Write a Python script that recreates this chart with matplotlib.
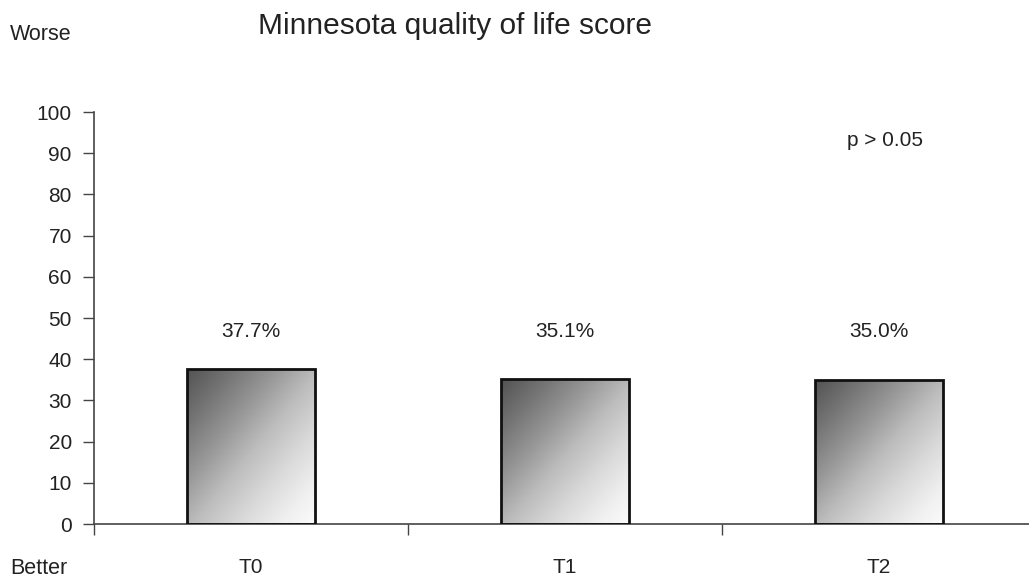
import numpy as np
import matplotlib
matplotlib.use("Agg")
import matplotlib.pyplot as plt

plt.rcParams['font.family'] = ['Liberation Sans', 'DejaVu Sans']

# data
groups = ['T0', 'T1', 'T2']
scores = [37.7, 35.1, 35.0]
score_labels = ['37.7%', '35.1%', '35.0%']
yticks = list(range(0, 101, 10))

txt = '#222222'

fig = plt.figure(figsize=(10.29, 5.77), dpi=100)
ax = fig.add_axes([94 / 1029, 53 / 577, 942 / 1029, 412 / 577])

x = np.arange(len(groups))
bars = ax.bar(x, scores, width=0.405, color='none', edgecolor='#111111', linewidth=2, zorder=3)

# diagonal gradient, dark top-left -> light bottom-right
gx, gy = np.meshgrid(np.linspace(0, 1, 200), np.linspace(0, 1, 200))
grad = (gx + gy) / 2.0
for b in bars:
    x0, y0 = b.get_x(), b.get_y()
    w, h = b.get_width(), b.get_height()
    im = ax.imshow(grad, cmap='Greys_r', vmin=-0.35, vmax=1.05, aspect='auto',
                   extent=(x0, x0 + w, y0, y0 + h), origin='upper', zorder=2, interpolation='bilinear')
    im.set_clip_path(b)

ax.set_xlim(-0.5, 2.5)
ax.set_ylim(0, 100)
ax.set_yticks(yticks)
ax.tick_params(axis='y', length=8, width=1, colors='#444444', labelcolor=txt, labelsize=15, pad=8)
ax.set_xticks([-0.5, 0.5, 1.5, 2.5])
ax.set_xticklabels([])
ax.tick_params(axis='x', length=8, width=1, colors='#444444', direction='out')
for g, xi in zip(groups, x):
    ax.text(xi, -10.5, g, ha='center', va='center', fontsize=15, color=txt)

for s in ['top', 'right']:
    ax.spines[s].set_visible(False)
for s in ['left', 'bottom']:
    ax.spines[s].set_color('#444444')
    ax.spines[s].set_linewidth(1.2)

for xi, lab in zip(x, score_labels):
    ax.text(xi, 46.8, lab, ha='center', va='center', fontsize=15, color=txt)

ax.text(2.02, 93, 'p > 0.05', ha='center', va='center', fontsize=15, color=txt)

fig.text(10 / 1029, 1 - 35 / 577, 'Worse', ha='left', va='center', fontsize=15.5, color=txt)
fig.text(10 / 1029, 1 - 568 / 577, 'Better', ha='left', va='center', fontsize=15.5, color=txt)
fig.text(455 / 1029, 1 - 26 / 577, 'Minnesota quality of life score', ha='center', va='center',
         fontsize=21.5, color=txt)

fig.savefig('out.png', dpi=100)
